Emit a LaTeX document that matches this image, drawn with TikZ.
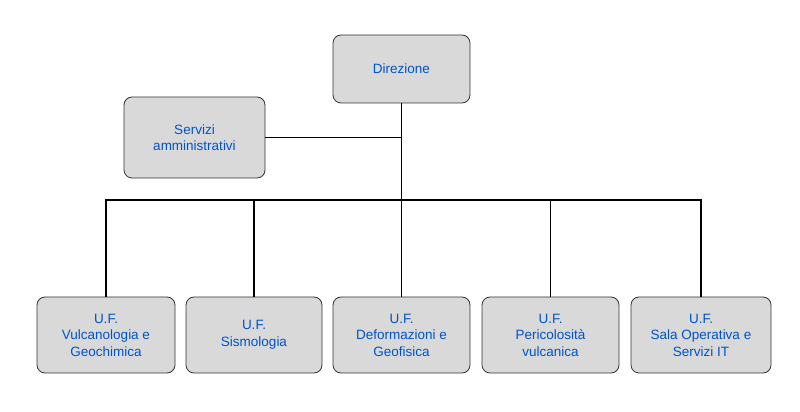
\documentclass[tikz,border=0pt]{standalone}
\usepackage{fontspec}
\setmainfont{Liberation Sans}
\begin{document}
\begin{tikzpicture}[x=1pt,y=1pt,
  box/.style={draw=black!80,line width=0.8pt,fill=black!15,rounded corners=8pt,align=center,text=blue!60!cyan!80!black,font=\fontsize{13.5}{16.5}\selectfont,inner sep=0pt},
  conn/.style={line width=1.5pt,black}]
\useasboundingbox (0,0) rectangle (800,412);
\node[box,minimum width=137,minimum height=68] (dir) at (401.5,343) {Direzione};
\node[box,minimum width=141,minimum height=81] (ser) at (194.5,274.5) {Servizi\\amministrativi};
\node[box,minimum width=138,minimum height=76] (b1) at (106,77) {U.F.\\Vulcanologia e\\Geochimica};
\node[box,minimum width=136,minimum height=76] (b2) at (254,77) {U.F.\\Sismologia};
\node[box,minimum width=137,minimum height=76] (b3) at (401.5,77) {U.F.\\Deformazioni e\\Geofisica};
\node[box,minimum width=137,minimum height=76] (b4) at (550.5,77) {U.F.\\Pericolosità\\vulcanica};
\node[box,minimum width=140,minimum height=76] (b5) at (701,77) {U.F.\\Sala Operativa e\\Servizi IT};
\coordinate (j) at (401.5,212);
\draw[conn] (dir.south) -- (j);
\draw[conn] (ser.east) -- (ser.east -| dir.south);
\draw[conn] (b1.north) -- (b1.north |- j) -- (b5.north |- j) -- (b5.north);
\draw[conn] (b2.north) -- (b2.north |- j);
\draw[conn] (b3.north) -- (j);
\draw[conn] (b4.north) -- (b4.north |- j);
\end{tikzpicture}
\end{document}
